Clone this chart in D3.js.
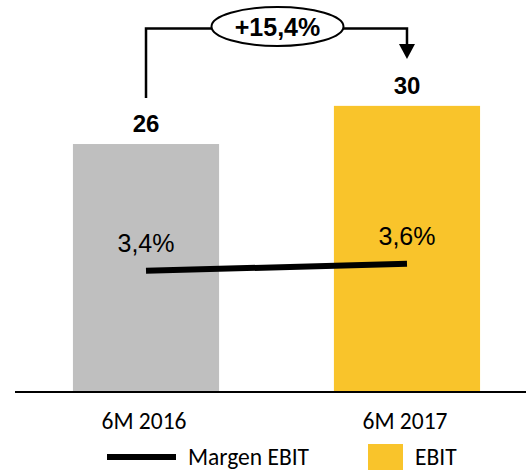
<!DOCTYPE html>
<html><head><meta charset="utf-8">
<script src="https://cdn.jsdelivr.net/npm/d3@7"></script>
<style>html,body{margin:0;padding:0;background:#fff;}</style>
</head><body>
<svg id="c" width="526" height="471"></svg>
<script>
const categories = ["6M 2016", "6M 2017"];
const ebit = [26, 30];
const ebitLabels = ["26", "30"];
const margin = [3.4, 3.6];
const marginLabels = ["3,4%", "3,6%"];
const growthLabel = "+15,4%";
const legendLabels = ["Margen EBIT", "EBIT"];
const barColors = ["#BFBFBF", "#F9C42B"];

const svg = d3.select("#c");
const x = d3.scaleBand().domain(categories).range([15, 538]).paddingInner(0.44).paddingOuter(0.222);
const y = d3.scaleLinear().domain([0, 41.1]).range([392, 0]);
const y2 = d3.scaleLinear().domain([0, 11]).range([392, 0]);
const cx = c => x(c) + x.bandwidth() / 2;

svg.selectAll("rect.bar").data(ebit).join("rect").attr("class", "bar")
  .attr("x", (d, i) => x(categories[i])).attr("width", x.bandwidth())
  .attr("y", d => y(d)).attr("height", d => y(0) - y(d))
  .attr("fill", (d, i) => barColors[i]);

svg.append("line").attr("x1", 15).attr("x2", 526).attr("y1", y(0)).attr("y2", y(0))
  .attr("stroke", "#000").attr("stroke-width", 2);

svg.selectAll("text.val").data(ebit).join("text").attr("class", "val")
  .attr("x", (d, i) => cx(categories[i])).attr("y", d => y(d) - 12)
  .attr("text-anchor", "middle").attr("font-family", "Liberation Sans, Arial, sans-serif")
  .attr("font-weight", "bold").attr("font-size", 24).attr("fill", "#000")
  .text((d, i) => ebitLabels[i]);

const line = d3.line().x((d, i) => cx(categories[i])).y(d => y2(d));
svg.append("path").datum(margin).attr("d", line).attr("fill", "none")
  .attr("stroke", "#000").attr("stroke-width", 6);

svg.selectAll("text.m").data(margin).join("text").attr("class", "m")
  .attr("x", (d, i) => cx(categories[i])).attr("y", d => y2(d) - 18.5)
  .attr("text-anchor", "middle").attr("font-family", "Liberation Sans, Arial, sans-serif")
  .attr("font-size", 25).attr("fill", "#000")
  .text((d, i) => marginLabels[i]);

svg.selectAll("text.cat").data(categories).join("text").attr("class", "cat")
  .attr("x", d => cx(d) - 2).attr("y", 429)
  .attr("text-anchor", "middle").attr("font-family", "Carlito, Lato, sans-serif")
  .attr("font-size", 23.5).attr("fill", "#000").text(d => d);

// growth bracket
const x0 = cx(categories[0]), x1 = cx(categories[1]);
const topY = 28.5;
svg.append("path")
  .attr("d", `M${x0},${y(ebit[0]) - 46}V${topY}H${x1}V${46}`)
  .attr("fill", "none").attr("stroke", "#000").attr("stroke-width", 2.5);
svg.append("path")
  .attr("d", `M${x1 - 8},${44}L${x1 + 8},${44}L${x1},${59}Z`).attr("fill", "#000");
const ex = (x0 + x1) / 2 + 1;
svg.append("ellipse").attr("cx", ex).attr("cy", 26.5).attr("rx", 66).attr("ry", 19.5)
  .attr("fill", "#fff").attr("stroke", "#000").attr("stroke-width", 2);
svg.append("text").attr("x", ex).attr("y", 36).attr("text-anchor", "middle")
  .attr("font-family", "Liberation Sans, Arial, sans-serif").attr("font-weight", "bold")
  .attr("font-size", 25).attr("fill", "#000").text(growthLabel);

// legend
svg.append("line").attr("x1", 107).attr("x2", 176).attr("y1", 457).attr("y2", 457)
  .attr("stroke", "#000").attr("stroke-width", 6);
svg.append("text").attr("x", 188).attr("y", 465).attr("font-family", "Carlito, Lato, sans-serif")
  .attr("font-size", 23.5).attr("fill", "#000").text(legendLabels[0]);
svg.append("rect").attr("x", 368).attr("y", 444).attr("width", 35).attr("height", 26)
  .attr("fill", barColors[1]);
svg.append("text").attr("x", 415).attr("y", 465).attr("font-family", "Carlito, Lato, sans-serif")
  .attr("font-size", 23.5).attr("fill", "#000").text(legendLabels[1]);
</script>
</body></html>
